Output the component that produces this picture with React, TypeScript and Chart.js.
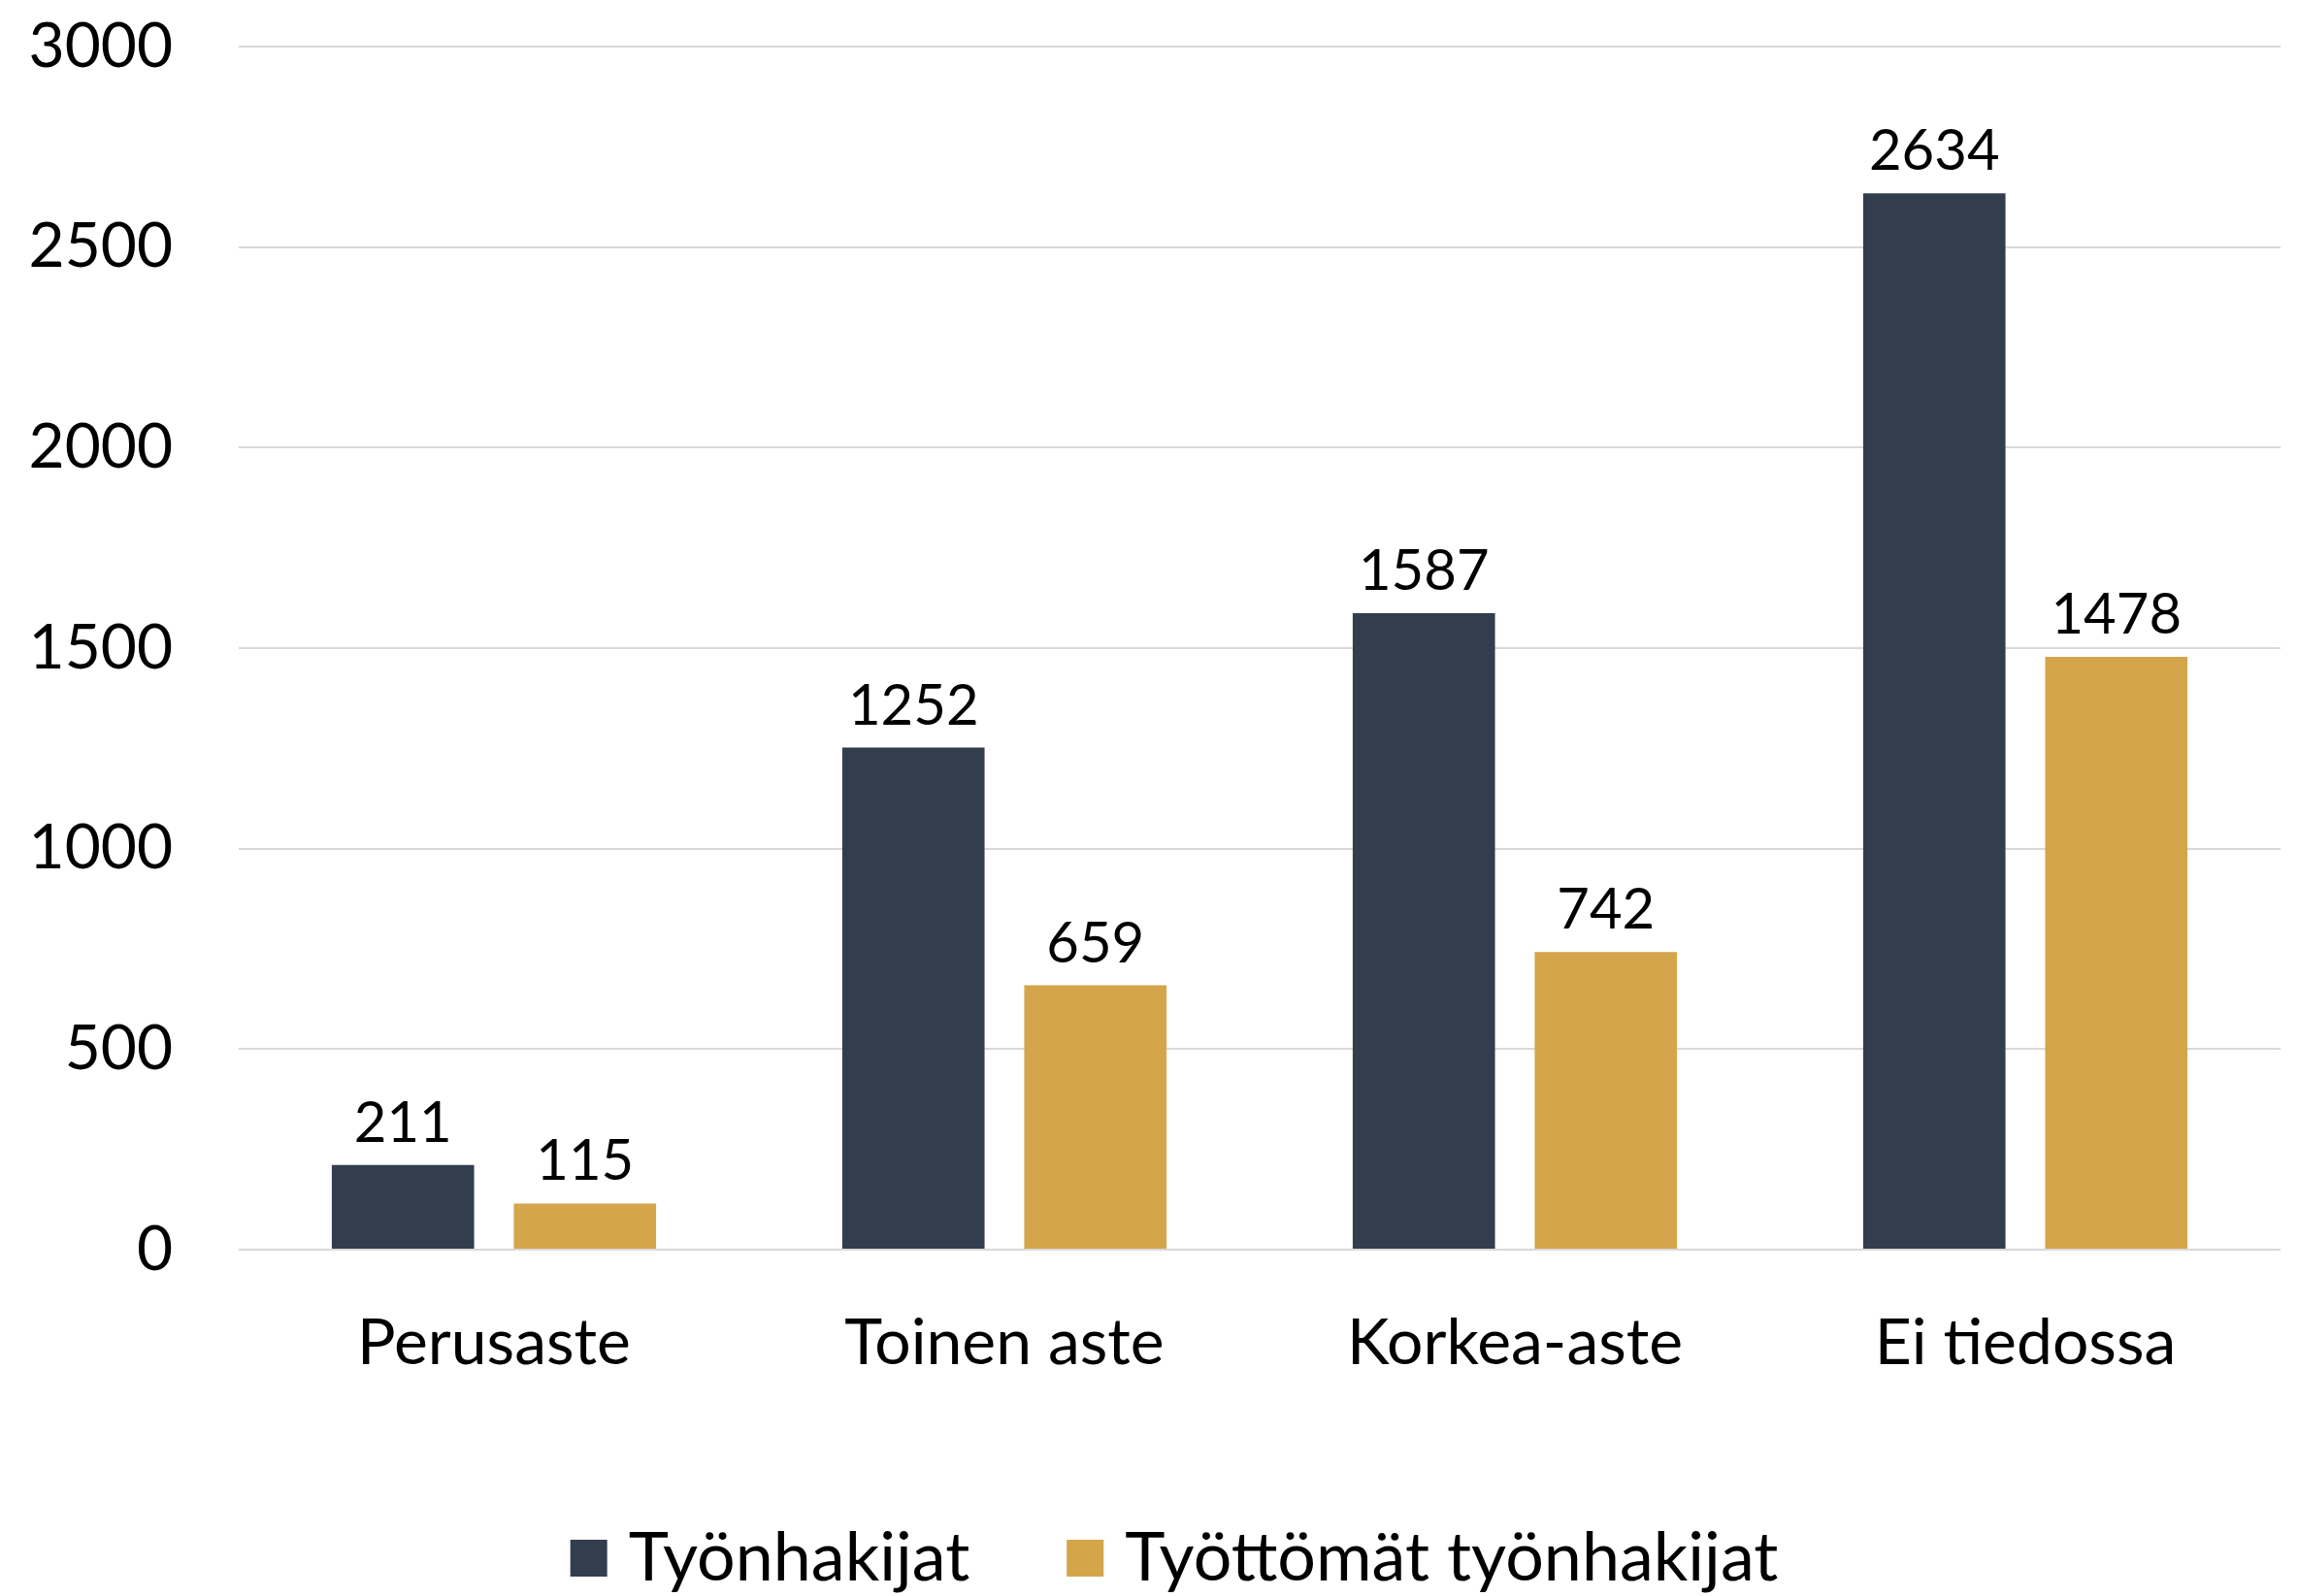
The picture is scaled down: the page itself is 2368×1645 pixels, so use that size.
import React, { useEffect, useRef } from "react";
import { Chart, registerables } from "chart.js";

Chart.register(...registerables);

const categories = ["Perusaste", "Toinen aste", "Korkea-aste", "Ei tiedossa"];
const seriesNames = ["Työnhakijat", "Työttömät työnhakijat"];
const tyonhakijat = [211, 1252, 1587, 2634];
const tyottomat = [115, 659, 742, 1478];
const colors = ["#323E4E", "#D4A54A"];
const yTicks = [0, 500, 1000, 1500, 2000, 2500, 3000];

const FONT = "Lato, 'Open Sans', sans-serif";

const valueLabels = {
  id: "valueLabels",
  afterDatasetsDraw(chart: any) {
    const ctx = chart.ctx;
    ctx.save();
    ctx.font = `58px ${FONT}`;
    ctx.fillStyle = "#000";
    ctx.textAlign = "center";
    ctx.textBaseline = "alphabetic";
    chart.data.datasets.forEach((ds: any, di: number) => {
      const meta = chart.getDatasetMeta(di);
      meta.data.forEach((el: any, i: number) => {
        ctx.fillText(String(ds.data[i]), el.x, el.y - 24);
      });
    });
    ctx.restore();
  },
};

const customLegend = {
  id: "customLegend",
  afterDraw(chart: any) {
    const ctx = chart.ctx;
    ctx.save();
    ctx.font = `70px ${FONT}`;
    ctx.textBaseline = "middle";
    ctx.textAlign = "left";
    const box = 38;
    const gapText = 22;
    const gapItem = 100;
    const widths = seriesNames.map((n) => ctx.measureText(n).width);
    const total =
      widths.reduce((a, w) => a + box + gapText + w, 0) + gapItem * (seriesNames.length - 1);
    let x = 1210 - total / 2;
    const cy = 1606;
    seriesNames.forEach((n, i) => {
      ctx.fillStyle = colors[i];
      ctx.fillRect(x, cy - box / 2, box, box);
      ctx.fillStyle = "#000";
      ctx.fillText(n, x + box + gapText, cy);
      x += box + gapText + widths[i] + gapItem;
    });
    ctx.restore();
  },
};

export default function App() {
  const ref = useRef<HTMLCanvasElement | null>(null);
  useEffect(() => {
    if (!ref.current) return;
    const chart = new Chart(ref.current, {
      type: "bar",
      data: {
        labels: categories,
        datasets: [
          {
            label: seriesNames[0],
            data: tyonhakijat,
            backgroundColor: colors[0],
            categoryPercentage: 0.713,
            barPercentage: 0.782,
          },
          {
            label: seriesNames[1],
            data: tyottomat,
            backgroundColor: colors[1],
            categoryPercentage: 0.713,
            barPercentage: 0.782,
          },
        ],
      },
      options: {
        animation: false,
        responsive: false,
        maintainAspectRatio: false,
        layout: { padding: { top: 48, left: 0, right: 18, bottom: 0 } },
        plugins: {
          legend: { display: false },
          tooltip: { enabled: false },
        },
        scales: {
          x: {
            grid: { display: false, drawTicks: false },
            border: { display: false },
            ticks: {
              color: "#000",
              font: { family: FONT, size: 66 },
              padding: 57,
            },
            afterFit(scale: any) {
              scale.height = 357;
              scale.paddingLeft = 0;
              scale.paddingRight = 0;
            },
          },
          y: {
            min: 0,
            max: 3000,
            afterBuildTicks(scale: any) {
              scale.ticks = yTicks.map((v) => ({ value: v }));
            },
            grid: { color: "#D9D9D9", lineWidth: 2, drawTicks: false },
            border: { display: false },
            ticks: {
              color: "#000",
              font: { family: FONT, size: 64 },
              padding: 68,
              callback: (v: any) => String(v),
            },
            afterFit(scale: any) {
              scale.width = 246;
              scale.paddingTop = 0;
              scale.paddingBottom = 0;
            },
          },
        },
      },
      plugins: [valueLabels, customLegend],
    });
    return () => chart.destroy();
  }, []);
  return (
    <div style={{ position: "fixed", left: 0, top: 0, width: 2368, height: 1645, background: "#fff" }}>
      <canvas ref={ref} width={2368} height={1645} style={{ width: 2368, height: 1645 }} />
    </div>
  );
}
